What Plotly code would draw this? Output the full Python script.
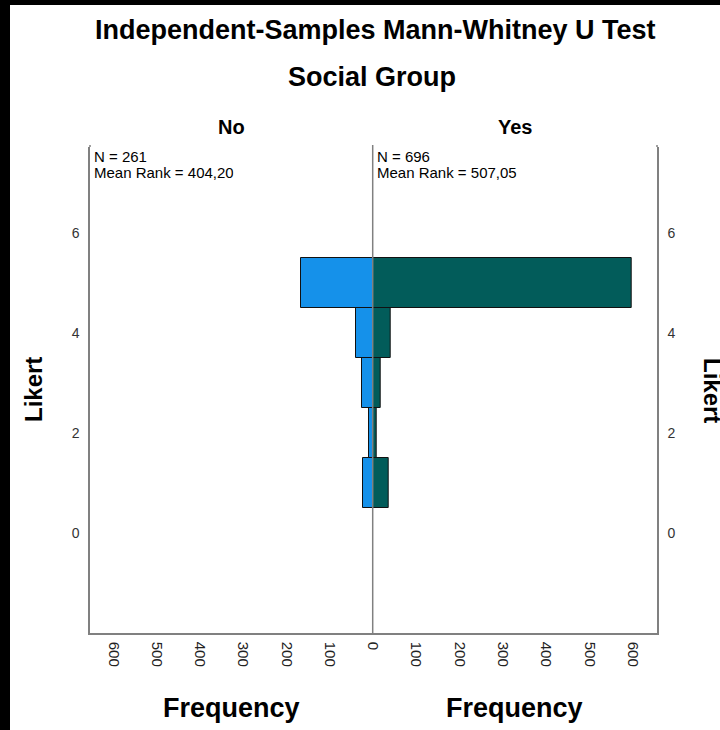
import plotly.graph_objs as go

# histogram data (Likert score -> frequency)
likert = [1, 2, 3, 4, 5]
no_counts = [23, 9, 25, 38, 166]
yes_counts = [37, 9, 18, 42, 597]

group_names = ["No", "Yes"]
group_n = ["N = 261", "N = 696"]
group_rank = ["Mean Rank = 404,20", "Mean Rank = 507,05"]
freq_ticks = [0, 100, 200, 300, 400, 500, 600]
likert_ticks = [0, 2, 4, 6]

W, H = 720, 730
L, R, T, B = 90, 63, 147, 97
PW, PH = W - L - R, H - T - B
MID = 372.7  # pixel x of the shared zero line


def px(x, y):
    # pixel position -> paper coordinates
    return (x - L) / PW, (H - B - y) / PH


font_family = "Liberation Sans, Arial, sans-serif"
line_col = "#808080"
split = (MID - L) / PW

fig = go.Figure()
fig.add_trace(go.Bar(y=likert, x=no_counts, orientation="h", width=1, xaxis="x", yaxis="y",
                     marker=dict(color="#1591EA", line=dict(color="#111111", width=1)),
                     showlegend=False, hoverinfo="x+y"))
fig.add_trace(go.Bar(y=likert, x=yes_counts, orientation="h", width=1, xaxis="x2", yaxis="y2",
                     marker=dict(color="#025C5A", line=dict(color="#111111", width=1)),
                     showlegend=False, hoverinfo="x+y"))

xaxis_common = dict(tickangle=90, showgrid=False, zeroline=False, showline=True,
                    linecolor=line_col, linewidth=1.5, ticks="", ticklabelstandoff=4,
                    tickfont=dict(family=font_family, size=15, color="#222222"))
yaxis_common = dict(range=[-2.0, 7.72], tickvals=likert_ticks, showgrid=False, zeroline=False,
                    showline=True, linecolor=line_col, linewidth=1.5, ticks="", ticklabelstandoff=6,
                    tickfont=dict(family=font_family, size=14, color="#333333"))

fig.update_layout(
    width=W, height=H,
    margin=dict(l=L, r=R, t=T, b=B, pad=0),
    paper_bgcolor="white", plot_bgcolor="white",
    bargap=0,
    xaxis=dict(domain=[0, split], range=[655, 0], tickvals=freq_ticks, anchor="y", **xaxis_common),
    xaxis2=dict(domain=[split, 1], range=[0, 655], tickvals=freq_ticks[1:], anchor="y2", **xaxis_common),
    yaxis=dict(anchor="x", side="left", **yaxis_common),
    yaxis2=dict(anchor="x2", side="right", matches="y", **yaxis_common),
)

annotations = []


def add_text(text, x, y, size, bold=False, angle=0, xanchor="center", yanchor="middle", height=None):
    ax, ay = px(x, y)
    ann = dict(text="<b>%s</b>" % text if bold else text, x=ax, y=ay, xref="paper",
               yref="paper", showarrow=False, xanchor=xanchor, yanchor=yanchor,
               textangle=angle,
               font=dict(family=font_family, size=size, color="black"))
    if height:
        ann["height"] = height
    annotations.append(ann)


add_text("Independent-Samples Mann-Whitney U Test", 375, 30, 27, bold=True)
add_text("Social Group", 372, 77, 27, bold=True)
add_text(group_names[0], (L + MID) / 2, 127, 20, bold=True)
add_text(group_names[1], (MID + W - R) / 2, 127, 20, bold=True)
add_text(group_n[0], 92, 156, 15, xanchor="left", height=15)
add_text(group_rank[0], 92, 172, 15, xanchor="left", height=15)
add_text(group_n[1], MID + 2, 156, 15, xanchor="left", height=15)
add_text(group_rank[1], MID + 2, 172, 15, xanchor="left", height=15)
add_text("Frequency", (L + MID) / 2, 708, 27, bold=True)
add_text("Frequency", (MID + W - R) / 2, 708, 27, bold=True)
add_text("Likert", 33, 390, 24, bold=True, angle=-90)
add_text("Likert", 713, 390, 24, bold=True, angle=90)
fig.update_layout(annotations=annotations)

# shared zero line and the dark frame at the picture edge
x0, y0 = px(MID, 145)
_, y1 = px(MID, H - B)
x_left, y_top = px(0, 0)
x_band, y_band = px(10, 5)
x_right, y_bottom = px(W, H)
fig.update_layout(shapes=[
    dict(type="line", xref="paper", yref="paper", x0=x0, x1=x0, y0=y1, y1=y0,
         line=dict(color=line_col, width=1.5)),
    dict(type="line", xref="paper", yref="paper", x0=0, x1=0, y0=1, y1=y0,
         line=dict(color=line_col, width=1.5)),
    dict(type="line", xref="paper", yref="paper", x0=1, x1=1, y0=1, y1=y0,
         line=dict(color=line_col, width=1.5)),
    dict(type="rect", xref="paper", yref="paper", x0=x_left, x1=x_band, y0=y_bottom, y1=y_top,
         fillcolor="black", line=dict(width=0)),
    dict(type="rect", xref="paper", yref="paper", x0=x_left, x1=x_right, y0=y_band, y1=y_top,
         fillcolor="black", line=dict(width=0)),
])

# drop the browser's default page margin so the figure starts at the window corner
fig.write_html("out.html", config={"displayModeBar": False},
               post_script="document.body.style.margin='0';")
